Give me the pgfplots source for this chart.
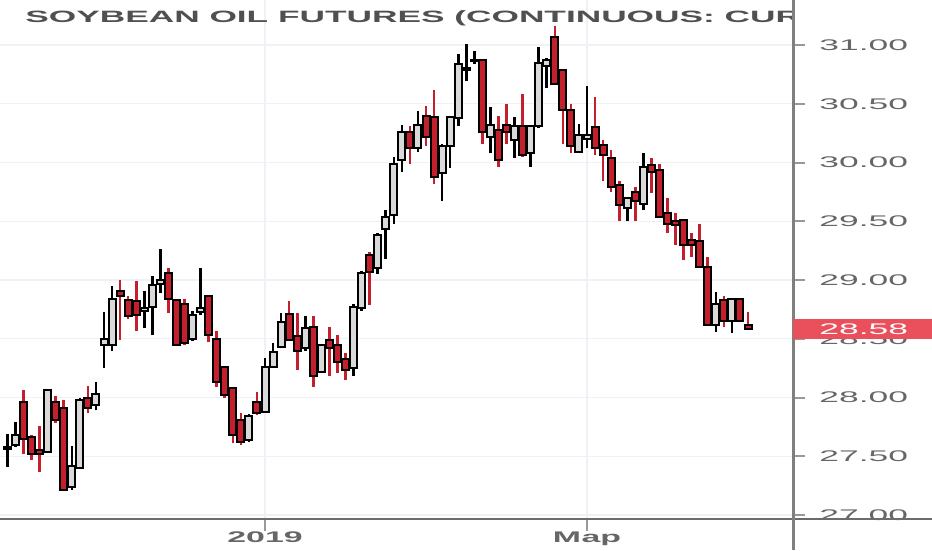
\documentclass[border=0pt]{standalone}
\usepackage{fontspec}
\setmainfont{Liberation Sans}
\usepackage{pgfplots}
\pgfplotsset{compat=1.18}
\usepackage{pgfplotstable}

\definecolor{bear}{HTML}{C41F2C}
\definecolor{bull}{HTML}{D9D9D9}
\definecolor{ttl}{HTML}{505050}
\definecolor{tck}{HTML}{666666}
\definecolor{gridc}{HTML}{EEF2F6}
\definecolor{tagc}{HTML}{E9505C}

% daily bars, i = trading days from 2 Jan 2019
\pgfplotstableread{
i   o     h     l     c
-32 27.56 27.69 27.41 27.58
-31 27.60 27.79 27.58 27.68
-30 27.96 28.06 27.52 27.65
-29 27.66 27.68 27.47 27.52
-28 27.55 27.76 27.37 27.52
-27 27.54 28.06 27.54 28.06
-26 27.96 28.01 27.78 27.81
-25 27.91 27.98 27.21 27.21
-24 27.24 27.59 27.21 27.42
-23 27.40 28.00 27.39 27.98
-22 28.00 28.10 27.87 27.91
-21 27.94 28.13 27.89 28.03
-20 28.45 28.73 28.25 28.50
-19 28.45 28.95 28.40 28.84
-18 28.91 29.00 28.49 28.86
-17 28.83 28.86 28.67 28.69
-16 28.82 28.99 28.57 28.70
-15 28.74 28.91 28.59 28.76
-14 28.77 29.03 28.53 28.96
-13 28.97 29.26 28.89 29.00
-12 29.06 29.10 28.72 28.84
-11 28.83 28.84 28.45 28.45
-10 28.80 28.84 28.45 28.46
-9  28.50 28.74 28.48 28.70
-8  28.73 29.10 28.70 28.76
-7  28.86 28.87 28.47 28.53
-6  28.50 28.57 28.09 28.13
-5  28.26 28.26 28.00 28.02
-4  28.08 28.08 27.61 27.68
-3  27.81 27.87 27.60 27.62
-2  27.64 27.86 27.62 27.84
-1  27.96 28.05 27.85 27.87
0   27.88 28.34 27.87 28.26
1   28.26 28.46 28.25 28.39
2   28.43 28.72 28.42 28.64
3   28.71 28.82 28.49 28.49
4   28.52 28.72 28.23 28.40
5   28.42 28.69 28.40 28.59
6   28.60 28.69 28.09 28.18
7   28.22 28.45 28.21 28.45
8   28.49 28.60 28.18 28.42
9   28.45 28.53 28.21 28.30
10  28.33 28.38 28.15 28.23
11  28.25 28.80 28.18 28.77
12  28.76 29.08 28.74 29.06
13  29.21 29.24 28.79 29.07
14  29.10 29.40 29.05 29.38
15  29.43 29.60 29.18 29.54
16  29.55 30.05 29.48 29.99
17  30.02 30.32 29.92 30.26
18  30.26 30.31 29.99 30.12
19  30.12 30.44 30.09 30.32
20  30.40 30.48 30.14 30.22
21  30.39 30.62 29.82 29.88
22  29.91 30.16 29.67 30.14
23  30.14 30.39 29.95 30.39
24  30.38 30.92 30.31 30.84
25  30.79 31.01 30.69 30.80
26  30.86 30.95 30.84 30.87
27  30.87 30.87 30.16 30.26
28  30.22 30.47 30.08 30.32
29  30.28 30.40 29.96 30.02
30  30.32 30.50 30.16 30.26
31  30.19 30.39 30.04 30.31
32  30.31 30.58 30.05 30.06
33  30.08 30.31 29.96 30.31
34  30.31 30.98 30.29 30.85
35  30.82 30.89 30.63 30.87
36  31.07 31.16 30.67 30.67
37  30.79 30.79 30.16 30.45
38  30.45 30.50 30.08 30.14
39  30.09 30.33 30.08 30.23
40  30.20 30.65 30.12 30.23
41  30.30 30.56 30.06 30.12
42  30.15 30.19 29.84 30.06
43  30.04 30.11 29.75 29.79
44  29.81 29.84 29.50 29.64
45  29.61 29.70 29.50 29.70
46  29.75 29.79 29.50 29.67
47  29.65 30.08 29.60 29.96
48  29.98 30.04 29.74 29.92
49  29.94 29.99 29.54 29.54
50  29.57 29.70 29.40 29.48
51  29.50 29.57 29.30 29.47
52  29.51 29.51 29.17 29.30
53  29.34 29.40 29.20 29.30
54  29.33 29.48 29.10 29.11
55  29.11 29.20 28.62 28.62
56  28.62 28.90 28.56 28.80
57  28.83 28.86 28.60 28.65
58  28.65 28.84 28.55 28.84
59  28.84 28.84 28.65 28.65
60  28.62 28.73 28.58 28.58
}\ohlc

% candle = wick + body, drawn in the marker of each bar (origin at the open)
\pgfplotsset{
  candle/.style n args={2}{
    scatter, only marks, mark=*, mark size=0pt,
    mark options={draw=none, fill=none},
    visualization depends on={\thisrow{h}-\thisrow{o} \as \dh},
    visualization depends on={\thisrow{l}-\thisrow{o} \as \dl},
    visualization depends on={\thisrow{c}-\thisrow{o} \as \dc},
    scatter/@pre marker code/.code={%
      \draw[#1, line width=1.3bp] (axis direction cs:0,\dl) -- (axis direction cs:0,\dh);
      \draw[black, fill=#2, line width=1bp] ([xshift=-1.75bp]axis direction cs:0,0) rectangle ([xshift=1.75bp]axis direction cs:0,\dc);
    },
    scatter/@post marker code/.code={},
  },
}

\begin{document}
\begin{tikzpicture}[x=1bp,y=1bp]
\path[use as bounding box] (0,-15.5) rectangle (466,259.5);
\begin{axis}[
  at={(0,0)}, anchor=south west,
  scale only axis, width=396.5bp, height=259.5bp,
  xmin=-32.92, xmax=65.59, ymin=26.966, ymax=31.383,
  axis line style={draw=none},
  xtick={0,40},
  xticklabels={{\scalebox{2.2}[1]{\bfseries 2019}},{\scalebox{2.2}[1]{\bfseries Мар}}},
  xtick pos=bottom,
  ytick={27,27.5,28,28.5,29,29.5,30,30.5,31},
  ytick pos=right, yticklabel pos=right,
  yticklabel={\scalebox{2.3}[1]{\pgfmathprintnumber[fixed,fixed zerofill,precision=2,assume math mode=true]{\tick}}},
  tick align=outside, major tick length=6bp,
  ytick style={draw=gray!80, line width=1bp},
  xtick style={draw=gray!80, line width=0.8bp},
  yticklabel style={anchor=west, inner sep=0pt, xshift=7bp, text=tck, font=\fontsize{7.7bp}{9bp}\selectfont},
  xticklabel style={inner sep=0pt, text=tck, font=\fontsize{7.7bp}{9bp}\selectfont},
  grid=major, major grid style={draw=gridc, line width=0.6bp},
]
% up bars: black wick, light body
\addplot[candle={black}{bull}, x filter/.expression={\thisrow{c}<\thisrow{o} ? nan : x}]
  table[x=i, y=o] {\ohlc};
% down bars: red wick, red body
\addplot[candle={bear}{bear}, x filter/.expression={\thisrow{c}<\thisrow{o} ? x : nan}]
  table[x=i, y=o] {\ohlc};
\coordinate (last) at (axis cs:0,28.58);
\node[anchor=west, inner sep=0pt, text=ttl, font=\bfseries\fontsize{8.2bp}{10bp}\selectfont]
  at (rel axis cs:0.0315,0.965) {\scalebox{2.15}[1]{SOYBEAN OIL FUTURES (CONTINUOUS: CURRENT CONTRACT IN FRONT)}};
\end{axis}
\coordinate (R) at (396.5,0);
\coordinate (E) at (466,0);
\draw[gray!85!black, line width=0.7bp] (0,0) -- (466,0);
\draw[gray, line width=1.5bp] (396.5,-15.5) -- (396.5,259.5);
\fill[tagc] ([yshift=-5bp]R |- last) rectangle ([yshift=5bp]E |- last);
\node[anchor=west, inner sep=0pt, text=white, font=\fontsize{7.7bp}{9bp}\selectfont]
  at ([xshift=13bp]R |- last) {\scalebox{2.3}[1]{28.58}};
\end{tikzpicture}
\end{document}
